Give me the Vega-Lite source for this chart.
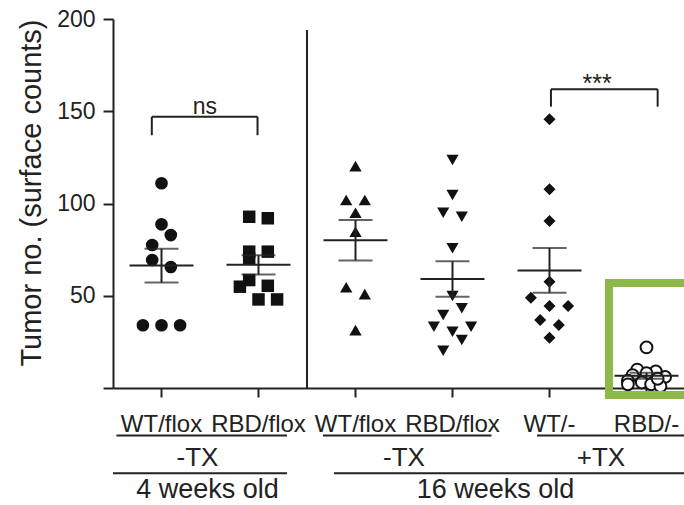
{
  "$schema": "https://vega.github.io/schema/vega-lite/v6.json",
  "width": 582,
  "height": 369,
  "autosize": "none",
  "padding": {"left": 113, "top": 19, "right": 0, "bottom": 117},
  "config": {"font": "Liberation Sans", "view": {"stroke": null}},
  "layer": [
    {
      "data": {"values": [
        {"g":1,"v":111,"j":0},{"g":1,"v":88.7,"j":0},{"g":1,"v":82.9,"j":1},{"g":1,"v":77.5,"j":-1},{"g":1,"v":69.4,"j":-1},{"g":1,"v":65.6,"j":1},{"g":1,"v":34,"j":-2},{"g":1,"v":34,"j":0},{"g":1,"v":34,"j":2},
        {"g":2,"v":92.8,"j":-1},{"g":2,"v":92,"j":1},{"g":2,"v":73.9,"j":-1},{"g":2,"v":73.9,"j":1},{"g":2,"v":70,"j":-1},{"g":2,"v":58.5,"j":-1},{"g":2,"v":54.9,"j":-2},{"g":2,"v":55.4,"j":1},{"g":2,"v":48,"j":0},{"g":2,"v":48,"j":2},
        {"g":3,"v":120.3,"j":0},{"g":3,"v":101.9,"j":-1},{"g":3,"v":101.9,"j":1},{"g":3,"v":95,"j":0},{"g":3,"v":84.7,"j":0},{"g":3,"v":54.6,"j":-1},{"g":3,"v":50.9,"j":1},{"g":3,"v":31.4,"j":0},
        {"g":4,"v":123.6,"j":0},{"g":4,"v":104.6,"j":0},{"g":4,"v":95,"j":-1},{"g":4,"v":92.8,"j":1},{"g":4,"v":75.7,"j":0},{"g":4,"v":49.9,"j":0},{"g":4,"v":43.2,"j":1},{"g":4,"v":39.6,"j":-1},{"g":4,"v":33.2,"j":-2},{"g":4,"v":33.2,"j":2},{"g":4,"v":30.5,"j":0},{"g":4,"v":26,"j":1},{"g":4,"v":20.2,"j":-1},
        {"g":5,"v":145.6,"j":0},{"g":5,"v":107.7,"j":0},{"g":5,"v":90.5,"j":0},{"g":5,"v":57.6,"j":0},{"g":5,"v":48.9,"j":-2},{"g":5,"v":44.4,"j":0},{"g":5,"v":44.4,"j":2},{"g":5,"v":36.9,"j":-1},{"g":5,"v":34.1,"j":1},{"g":5,"v":27.3,"j":0},
        {"g":6,"v":22,"j":0},{"g":6,"v":10,"j":-1},{"g":6,"v":9,"j":1},{"g":6,"v":8,"j":0},{"g":6,"v":7,"j":-1.5},{"g":6,"v":6,"j":2},{"g":6,"v":4,"j":-2},{"g":6,"v":3,"j":-0.5},{"g":6,"v":2,"j":0.5},{"g":6,"v":2,"j":-2},{"g":6,"v":1,"j":1.5},{"g":6,"v":5,"j":1.2}
      ]},
      "encoding": {
        "x": {"field": "g", "type": "ordinal",
          "scale": {"type": "band", "paddingInner": 0, "paddingOuter": 0},
          "axis": {"title": null, "labelAngle": 0, "labelExpr": "['WT/flox','RBD/flox','WT/flox','RBD/flox','WT/-','RBD/-'][datum.value-1]",
            "labelFontSize": 24, "labelColor": "#222", "labelBaseline": "alphabetic", "labelPadding": 34,
            "domainColor": "#222", "domainWidth": 2, "tickColor": "#222", "tickWidth": 2, "tickSize": 9, "grid": false}},
        "y": {"field": "v", "type": "quantitative",
          "scale": {"domain": [0, 200], "nice": false},
          "axis": {"title": "Tumor no. (surface counts)", "titleFontSize": 29, "titleFontWeight": "normal", "titleColor": "#222", "titleAnchor": "end", "titlePadding": 10,
            "values": [0, 50, 100, 150, 200], "labelExpr": "datum.value == 0 ? '' : datum.label",
            "labelFontSize": 23, "labelColor": "#222", "labelPadding": 8,
            "domainColor": "#222", "domainWidth": 2, "tickColor": "#222", "tickWidth": 2, "tickSize": 10, "grid": false}}
      },
      "layer": [
        {
          "mark": {"type": "point", "filled": false, "opacity": 1, "stroke": "#111"},
          "encoding": {
            "xOffset": {"field": "j", "type": "quantitative", "scale": {"domain": [-2, 2], "range": [29.9, 67.1]}},
            "shape": {"field": "g", "type": "ordinal", "legend": null, "scale": {"domain": [1,2,3,4,5,6], "range": ["circle","square","triangle-up","triangle-down","diamond","circle"]}},
            "size": {"field": "g", "type": "ordinal", "legend": null, "scale": {"domain": [1,2,3,4,5,6], "range": [160,140,130,130,85,110]}},
            "fill": {"condition": {"test": "datum.g == 6", "value": "#ffffff"}, "value": "#111"},
            "strokeWidth": {"condition": {"test": "datum.g == 6", "value": 2}, "value": 0}
          }
        },
        {
          "mark": {"type": "errorbar", "extent": "stderr", "thickness": 2, "color": "#222", "ticks": {"size": 34, "thickness": 2, "color": "#222"}}
        },
        {
          "mark": {"type": "tick", "size": 64, "thickness": 2, "color": "#222"},
          "encoding": {"y": {"aggregate": "mean", "field": "v", "type": "quantitative"}}
        }
      ]
    },
    {
      "data": {"values": [
        {"kind": "divider", "x": 2.5, "x2": 2.5, "y": 0, "y2": 194},
        {"kind": "ns", "x": 0.9, "x2": 1.99, "y": 147, "y2": 147},
        {"kind": "ns", "x": 0.9, "x2": 0.9, "y": 137, "y2": 147},
        {"kind": "ns", "x": 1.99, "x2": 1.99, "y": 137, "y2": 147},
        {"kind": "sig", "x": 5.015, "x2": 6.115, "y": 161.9, "y2": 161.9},
        {"kind": "sig", "x": 5.015, "x2": 5.015, "y": 152.5, "y2": 161.9},
        {"kind": "sig", "x": 6.115, "x2": 6.115, "y": 152.5, "y2": 161.9}
      ]},
      "mark": {"type": "rule", "color": "#222", "strokeWidth": 2},
      "encoding": {
        "x": {"field": "x", "type": "quantitative", "scale": {"domain": [0.5, 6.5], "nice": false, "zero": false}, "axis": null},
        "x2": {"field": "x2"},
        "y": {"field": "y", "type": "quantitative", "scale": {"domain": [0, 200], "nice": false}, "axis": null},
        "y2": {"field": "y2"}
      }
    },
    {
      "data": {"values": [
        {"label": "ns", "x": 1.448, "y": 147}
      ]},
      "mark": {"type": "text", "fontSize": 23, "color": "#222", "baseline": "alphabetic", "dy": -3},
      "encoding": {
        "x": {"field": "x", "type": "quantitative", "scale": {"domain": [0.5, 6.5], "nice": false, "zero": false}, "axis": null},
        "y": {"field": "y", "type": "quantitative", "scale": {"domain": [0, 200], "nice": false}, "axis": null},
        "text": {"field": "label"}
      }
    },
    {
      "data": {"values": [
        {"label": "***", "x": 5.49, "y": 161.9}
      ]},
      "mark": {"type": "text", "fontSize": 25, "color": "#222", "baseline": "alphabetic", "dy": 3},
      "encoding": {
        "x": {"field": "x", "type": "quantitative", "scale": {"domain": [0.5, 6.5], "nice": false, "zero": false}, "axis": null},
        "y": {"field": "y", "type": "quantitative", "scale": {"domain": [0, 200], "nice": false}, "axis": null},
        "text": {"field": "label"}
      }
    },
    {
      "data": {"values": [
        {"x": 5.613, "x2": 6.7, "y": 56.9, "y2": -3.8}
      ]},
      "mark": {"type": "rect", "fill": null, "fillOpacity": 0, "stroke": "#8db84a", "strokeWidth": 8, "clip": false},
      "encoding": {
        "x": {"field": "x", "type": "quantitative", "scale": {"domain": [0.5, 6.5], "nice": false, "zero": false}, "axis": null},
        "x2": {"field": "x2"},
        "y": {"field": "y", "type": "quantitative", "scale": {"domain": [0, 200], "nice": false}, "axis": null},
        "y2": {"field": "y2"}
      }
    },
    {
      "data": {"values": [
        {"label": "-TX", "x": 1.371, "tier": 2},
        {"label": "-TX", "x": 3.5, "tier": 2},
        {"label": "+TX", "x": 5.53, "tier": 2}
      ]},
      "mark": {"type": "text", "color": "#222", "baseline": "alphabetic", "fontSize": 26},
      "encoding": {
        "x": {"field": "x", "type": "quantitative", "scale": {"domain": [0.5, 6.5], "nice": false, "zero": false}, "axis": null},
        "y": {"field": "tier", "type": "quantitative", "scale": {"domain": [1, 3], "range": [411, 483], "nice": false, "zero": false}, "axis": null},
        "text": {"field": "label"}
      }
    },
    {
      "data": {"values": [
        {"label": "4 weeks old", "x": 1.474, "tier": 2.9},
        {"label": "16 weeks old", "x": 4.443, "tier": 2.9}
      ]},
      "mark": {"type": "text", "color": "#222", "baseline": "alphabetic", "fontSize": 27},
      "encoding": {
        "x": {"field": "x", "type": "quantitative", "scale": {"domain": [0.5, 6.5], "nice": false, "zero": false}, "axis": null},
        "y": {"field": "tier", "type": "quantitative", "scale": {"domain": [1, 3], "range": [411, 483], "nice": false, "zero": false}, "axis": null},
        "text": {"field": "label"}
      }
    },
    {
      "data": {"values": [
        {"x": 0.536, "x2": 2.294, "tier": 1.15},
        {"x": 2.665, "x2": 4.402, "tier": 1.15},
        {"x": 4.871, "x2": 6.7, "tier": 1.15},
        {"x": 0.5, "x2": 2.294, "tier": 2.2},
        {"x": 2.778, "x2": 6.7, "tier": 2.2}
      ]},
      "mark": {"type": "rule", "color": "#222", "strokeWidth": 2},
      "encoding": {
        "x": {"field": "x", "type": "quantitative", "scale": {"domain": [0.5, 6.5], "nice": false, "zero": false}, "axis": null},
        "x2": {"field": "x2"},
        "y": {"field": "tier", "type": "quantitative", "scale": {"domain": [1, 3], "range": [411, 483], "nice": false, "zero": false}, "axis": null}
      }
    }
  ],
  "resolve": {"scale": {"x": "independent", "y": "independent"}, "axis": {"x": "independent", "y": "independent"}}
}
